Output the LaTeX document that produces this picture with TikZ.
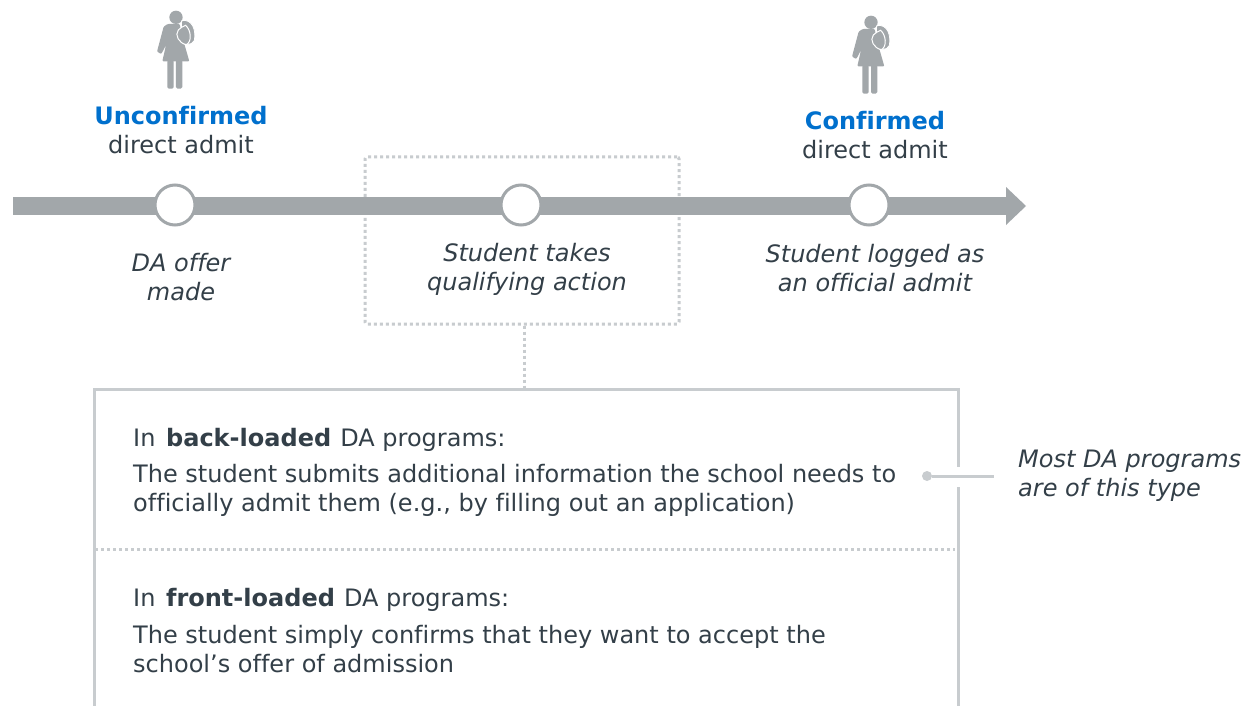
\documentclass[tikz,border=0pt]{standalone}
\usepackage{fontspec}
\setmainfont[Ligatures=NoCommon]{DejaVu Sans}
\definecolor{txt}{HTML}{333F48}
\definecolor{blu}{HTML}{0070CD}
\definecolor{bar}{HTML}{A2A7AA}
\definecolor{lin}{HTML}{C8CCCF}
\tikzset{
 lab/.style={text=txt,font=\fontsize{24}{29}\selectfont\itshape,align=center,inner sep=0pt},
 head/.style={text=txt,font=\fontsize{24}{29}\selectfont,align=center,inner sep=0pt},
 body/.style={text=txt,font=\fontsize{24}{28.5}\selectfont,align=left,inner sep=0pt,anchor=west},
 tick/.style={circle,draw=bar,line width=3pt,fill=white,minimum size=40pt,inner sep=0pt},
 dots/.style={draw=lin,line width=3pt,dash pattern=on 3pt off 3pt},
 frame/.style={draw=lin,line width=3pt},
 person/.pic={
  \begin{scope}[x=0.3333pt,y=-0.3333pt,xshift=-47pt,yshift=0pt]
   \fill[bar] (141,52) circle (20);
   \fill[bar,rounded corners=1pt] (116,72) -- (152,72) -- (162,118) -- (181,184) -- (100,184) -- (111,135) -- (97,162) -- (84,155) -- (104,80) -- cycle;
   \fill[bar,rounded corners=1.5pt] (115,180) -- (134,180) -- (134,266) -- (115,266) -- cycle;
   \fill[bar,rounded corners=1.5pt] (141,180) -- (160,180) -- (160,266) -- (141,266) -- cycle;
   \fill[bar,draw=white,line width=0.8pt] (158,62) .. controls (190,56) and (202,90) .. (196,122) .. controls (188,138) and (165,135) .. (155,125) -- cycle;
   \fill[bar,draw=white,line width=1pt] (170,76) .. controls (186,90) and (190,125) .. (172,134) .. controls (150,130) and (136,105) .. (148,90) .. controls (155,84) and (162,78) .. (170,76) -- cycle;
  \end{scope}}
}
\begin{document}
\begin{tikzpicture}[x=1pt,y=-1pt]
\useasboundingbox (0,0) rectangle (1245,706);
\fill[white] (0,0) rectangle (1245,706);
% dotted box
\node[dots,draw,rounded corners=2pt,minimum width=314pt,minimum height=167pt,inner sep=0pt] (qbox) at (522,240.5) {};
% main bar
\coordinate (barstart) at (13,206);
\coordinate (barend) at (1006,206);
\fill[bar] (13,197) rectangle (1006,215);
\fill[bar] (1006,187) -- (1026,206) -- (1006,225) -- cycle;
\node[tick] (t1) at (175,205) {};
\node[tick] (t2) at (521,205) {};
\node[tick] (t3) at (869,205) {};
% icons
\pic at (176,0) {person};
\pic at (871,5) {person};
% heads
\node[head] (h1) at (181,130) {\textcolor{blu}{\bfseries Unconfirmed}\\direct admit};
\node[head] (h3) at (875,135) {\textcolor{blu}{\bfseries Confirmed}\\direct admit};
% labels
\node[lab] (l1) at (181,277) {DA offer\\made};
\node[lab] (l2) at (527,269.5) {Student takes\\qualifying action};
\node[lab] (l3) at (875,268) {Student logged as\\an official admit};
% big frame
\coordinate (ftl) at (94,389);
\coordinate (ftr) at (958,389);
\coordinate (fbl) at (94,706);
\coordinate (fbr) at (958,706);
\coordinate (ftop) at (524,388);
\draw[dots] (qbox.south -| ftop) -- (ftop);
\draw[frame] (fbl) -- (ftl) -- (ftr) -- (fbr);
\coordinate (dl) at (95,549);
\coordinate (dr) at (955,549);
\draw[dots] (dl) -- (dr);
% callout
\fill[white] (950,467) rectangle (966,487);
\node[circle,fill=lin,minimum size=10pt,inner sep=0pt] (dot) at (927,476) {};
\coordinate (cend) at (994,476);
\draw[lin,line width=3pt] (dot) -- (cend);
\node[lab,align=left,anchor=west] (most) at (1018,476) {Most DA programs\\are of this type};
% body text
\node[body] (b1) at (133,440) {In\hspace{3pt} \textbf{back-loaded}\hspace{1.5pt} DA programs:};
\node[body] (b2) at (133,490.5) {The student submits additional information the school needs to\\officially admit them (e.g., by filling out an application)};
\node[body] (b3) at (133,600) {In\hspace{3pt} \textbf{front-loaded}\hspace{1.5pt} DA programs:};
\node[body] (b4) at (133,649) {The student simply confirms that they want to accept the\\school’s offer of admission};
\end{tikzpicture}
\end{document}
